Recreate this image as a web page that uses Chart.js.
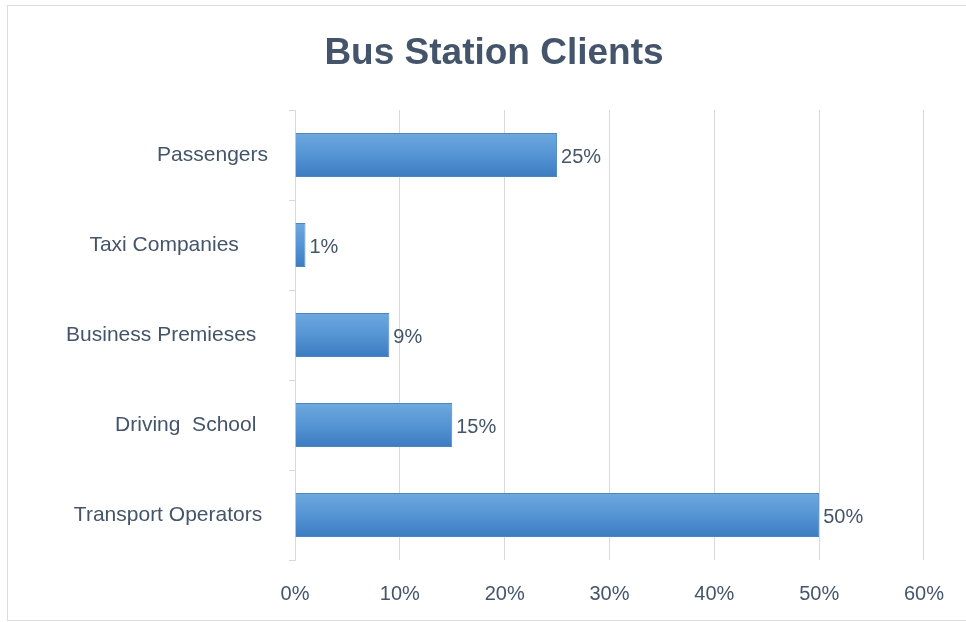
<!DOCTYPE html>
<html>
<head>
<meta charset="utf-8">
<title>Bus Station Clients</title>
<script src="https://cdn.jsdelivr.net/npm/chart.js@4/dist/chart.umd.min.js"></script>
<style>
  html, body { margin: 0; padding: 0; background: #fff; overflow: hidden; }
  #wrap { position: relative; width: 966px; height: 622px; overflow: hidden; }
  #frame { position: absolute; left: 7px; top: 5px; width: 975px; height: 616px; border: 1px solid #dcdcdc; box-sizing: border-box; pointer-events: none; }
  canvas { position: absolute; left: 0; top: 0; }
</style>
</head>
<body>
<div id="wrap">
  <canvas id="chart" width="966" height="622"></canvas>
  <div id="frame"></div>
</div>
<script>
// category labels (trailing spaces kept as typed in the source sheet)
const categories = ['Passengers', 'Taxi Companies     ', 'Business Premieses  ', 'Driving  School  ', 'Transport Operators '];
const shares = [25, 1, 9, 15, 50];
const axisMax = 60;
const axisStep = 10;
const chartTitle = 'Bus Station Clients';

const slate = '#44546A';
const gridGray = '#d9d9d9';
const font = '"Liberation Sans", Arial, sans-serif';
const barPct = 0.49;

// vertical blue gradient for each bar, built from the category scale
function barFill(c) {
  const chart = c.chart;
  const yS = chart.scales && chart.scales.y;
  if (c.type !== 'data' || !yS || !chart.chartArea) return '#5b9bd5';
  const center = yS.getPixelForValue(c.dataIndex);
  const half = yS.height / categories.length * barPct / 2;
  const g = chart.ctx.createLinearGradient(0, center - half, 0, center + half);
  g.addColorStop(0, '#6ea8de');
  g.addColorStop(0.5, '#5595d5');
  g.addColorStop(1, '#3b7bc0');
  return g;
}

// title sits a little right of the canvas centre, over the plot
const titleText = {
  id: 'titleText',
  afterDraw(chart) {
    const ctx = chart.ctx;
    ctx.save();
    ctx.font = 'bold 37px ' + font;
    ctx.fillStyle = slate;
    ctx.textAlign = 'center';
    ctx.textBaseline = 'alphabetic';
    ctx.fillText(chartTitle, 494, 64);
    ctx.restore();
  }
};

// value labels right of each bar
const valueLabels = {
  id: 'valueLabels',
  afterDatasetsDraw(chart) {
    const ctx = chart.ctx;
    const meta = chart.getDatasetMeta(0);
    ctx.save();
    ctx.font = '20px ' + font;
    ctx.fillStyle = slate;
    ctx.textAlign = 'left';
    ctx.textBaseline = 'middle';
    meta.data.forEach((bar, i) => {
      ctx.fillText(shares[i] + '%', bar.x + 4, bar.y + 2);
    });
    ctx.restore();
  }
};

new Chart(document.getElementById('chart'), {
  type: 'bar',
  data: {
    labels: categories,
    datasets: [{
      data: shares,
      backgroundColor: barFill,
      borderColor: '#4a85c4',
      borderWidth: 1,
      barPercentage: barPct,
      categoryPercentage: 1
    }]
  },
  options: {
    indexAxis: 'y',
    responsive: false,
    animation: false,
    layout: { padding: { left: 0, right: 36, top: 110, bottom: 0 } },
    plugins: {
      legend: { display: false },
      tooltip: { enabled: false },
      title: { display: false }
    },
    scales: {
      x: {
        min: 0,
        max: axisMax,
        grid: { color: gridGray, drawTicks: false },
        border: { display: false },
        ticks: {
          stepSize: axisStep,
          padding: 22,
          color: slate,
          font: { family: font, size: 20 },
          callback: v => v + '%'
        },
        afterFit: s => { s.height = 62; }
      },
      y: {
        grid: { color: gridGray, drawOnChartArea: false, drawTicks: true, tickLength: 6 },
        border: { display: true, color: gridGray },
        ticks: {
          padding: 21,
          color: slate,
          font: { family: font, size: 21 }
        },
        afterFit: s => { s.width = 295; }
      }
    }
  },
  plugins: [valueLabels, titleText]
});
</script>
</body>
</html>
